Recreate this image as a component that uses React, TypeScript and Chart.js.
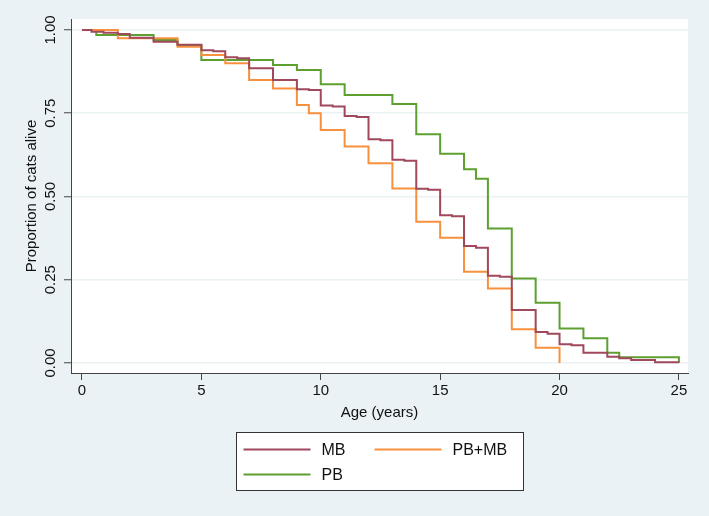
import React, { useEffect, useRef } from 'react';
import { Chart, registerables } from 'chart.js';

Chart.register(...registerables);

// Kaplan-Meier steps: age (years) -> proportion alive
const mbAge = [0, 0.4, 0.9, 1.5, 2, 3, 4, 5, 5.5, 6, 6.5, 7, 8, 9, 9.5, 10, 10.5, 11, 11.5, 12, 12.5, 13, 13.5, 14, 14.5, 15, 15.5, 16, 16.5, 17, 17.5, 18, 19, 19.5, 20, 20.5, 21, 22, 22.5, 23, 24, 25];
const mbAlive = [1, 0.995, 0.992, 0.988, 0.977, 0.965, 0.956, 0.939, 0.936, 0.918, 0.915, 0.885, 0.85, 0.822, 0.82, 0.773, 0.77, 0.742, 0.739, 0.672, 0.669, 0.61, 0.607, 0.523, 0.52, 0.444, 0.441, 0.351, 0.346, 0.262, 0.259, 0.159, 0.093, 0.088, 0.056, 0.053, 0.031, 0.019, 0.014, 0.009, 0.002, 0.002];

const pbmbAge = [0, 1.5, 4, 5, 6, 7, 8, 9, 9.5, 10, 11, 12, 13, 14, 15, 16, 17, 18, 19, 20];
const pbmbAlive = [1, 0.975, 0.95, 0.925, 0.9, 0.85, 0.824, 0.775, 0.75, 0.7, 0.65, 0.6, 0.524, 0.424, 0.376, 0.274, 0.224, 0.101, 0.046, 0];

const pbAge = [0, 0.6, 3, 4, 5, 8, 9, 10, 11, 13, 14, 15, 16, 16.5, 17, 18, 19, 20, 21, 22, 22.5, 25];
const pbAlive = [1, 0.985, 0.97, 0.955, 0.91, 0.895, 0.88, 0.837, 0.805, 0.778, 0.687, 0.628, 0.582, 0.553, 0.404, 0.254, 0.181, 0.104, 0.074, 0.031, 0.017, 0];

const seriesNames = ['MB', 'PB+MB', 'PB'];
const seriesColors = ['#A0485C', '#F7913D', '#5DA030'];

const xTicks = [0, 5, 10, 15, 20, 25];
const yTicks = [0, 0.25, 0.5, 0.75, 1];
const yTickLabels = ['0.00', '0.25', '0.50', '0.75', '1.00'];

const xTitle = 'Age (years)';
const yTitle = 'Proportion of cats alive';

const FONT = '"Liberation Sans", Arial, Helvetica, sans-serif';
const INK = '#111';
const AXIS = '#444';

const toPoints = (xs: number[], ys: number[]) => xs.map((x, i) => ({ x, y: ys[i] }));

// stata-ish frame: grey page, white plot region, rotated y labels, boxed legend
const stataFrame = {
    id: 'stataFrame',
    beforeDraw(chart: any) {
        const { ctx, chartArea: a, width, height } = chart;
        ctx.save();
        ctx.fillStyle = '#EAF2F5';
        ctx.fillRect(0, 0, width, height);
        ctx.fillStyle = '#ffffff';
        ctx.fillRect(a.left, a.top, a.right - a.left, a.bottom - a.top);
        ctx.restore();
    },
    afterDraw(chart: any) {
        const { ctx, chartArea: a, scales } = chart;
        const cx = (a.left + a.right) / 2;
        ctx.save();
        ctx.fillStyle = INK;
        ctx.font = `15px ${FONT}`;
        ctx.textAlign = 'center';
        ctx.textBaseline = 'middle';

        yTicks.forEach((v, i) => {
            ctx.save();
            ctx.translate(a.left - 20, scales.y.getPixelForValue(v));
            ctx.rotate(-Math.PI / 2);
            ctx.fillText(yTickLabels[i], 0, 0);
            ctx.restore();
        });

        ctx.save();
        ctx.translate(a.left - 39, (a.top + a.bottom) / 2);
        ctx.rotate(-Math.PI / 2);
        ctx.fillText(yTitle, 0, 0);
        ctx.restore();

        ctx.fillText(xTitle, cx, a.bottom + 40);

        // legend box
        const boxW = 287;
        const boxH = 58;
        const bx = Math.round(cx - boxW / 2) + 0.5;
        const by = a.bottom + 59.5;
        ctx.fillStyle = '#ffffff';
        ctx.fillRect(bx, by, boxW, boxH);
        ctx.strokeStyle = '#333';
        ctx.lineWidth = 1;
        ctx.strokeRect(bx, by, boxW, boxH);

        const slots = [
            { dx: 7, dy: 17 },
            { dx: 138, dy: 17 },
            { dx: 7, dy: 42 },
        ];
        ctx.textAlign = 'left';
        ctx.font = `16px ${FONT}`;
        seriesNames.forEach((name, i) => {
            const s = slots[i];
            const ly = by + s.dy;
            ctx.strokeStyle = seriesColors[i];
            ctx.lineWidth = 2;
            ctx.beginPath();
            ctx.moveTo(bx + s.dx, ly);
            ctx.lineTo(bx + s.dx + 67, ly);
            ctx.stroke();
            ctx.fillStyle = INK;
            ctx.fillText(name, bx + s.dx + 78, ly + 1);
        });
        ctx.restore();
    },
};

const App: React.FC = () => {
    const chartRef = useRef<HTMLCanvasElement>(null);
    const chartInstance = useRef<Chart | null>(null);

    useEffect(() => {
        document.body.style.margin = '0';
        if (!chartRef.current) return;
        const ctx = chartRef.current.getContext('2d');
        if (!ctx) return;
        if (chartInstance.current) chartInstance.current.destroy();

        const series = [
            toPoints(mbAge, mbAlive),
            toPoints(pbmbAge, pbmbAlive),
            toPoints(pbAge, pbAlive),
        ];

        chartInstance.current = new Chart(ctx, {
            type: 'line',
            data: {
                datasets: series.map((pts, i) => ({
                    label: seriesNames[i],
                    data: pts,
                    borderColor: seriesColors[i],
                    backgroundColor: seriesColors[i],
                    borderWidth: 2,
                    pointRadius: 0,
                    fill: false,
                    stepped: 'before' as const,
                })),
            },
            options: {
                animation: false,
                responsive: false,
                layout: { padding: { top: 19, right: 21, left: 0, bottom: 0 } },
                plugins: {
                    legend: { display: false },
                    tooltip: { enabled: false },
                },
                scales: {
                    x: {
                        type: 'linear',
                        min: -0.46,
                        max: 25.38,
                        afterBuildTicks: (s: any) => {
                            s.ticks = xTicks.map((v) => ({ value: v }));
                        },
                        afterFit: (s: any) => {
                            s.height = 143;
                        },
                        grid: {
                            drawOnChartArea: false,
                            drawTicks: true,
                            tickLength: 7,
                            tickColor: AXIS,
                            tickWidth: 1,
                        },
                        border: { display: true, color: AXIS, width: 1 },
                        ticks: {
                            color: INK,
                            font: { family: FONT, size: 15 },
                            padding: 2,
                            maxRotation: 0,
                            autoSkip: false,
                        },
                    },
                    y: {
                        type: 'linear',
                        min: -0.03,
                        max: 1.033,
                        afterBuildTicks: (s: any) => {
                            s.ticks = yTicks.map((v) => ({ value: v }));
                        },
                        afterFit: (s: any) => {
                            s.width = 71;
                        },
                        grid: {
                            color: '#EAF2F3',
                            lineWidth: 1.5,
                            drawTicks: true,
                            tickLength: 7,
                            tickColor: AXIS,
                            tickWidth: 1,
                        },
                        border: { display: true, color: AXIS, width: 1 },
                        ticks: { display: false },
                    },
                },
            },
            plugins: [stataFrame],
        });

        return () => {
            if (chartInstance.current) {
                chartInstance.current.destroy();
                chartInstance.current = null;
            }
        };
    }, []);

    return (
        <div style={{ width: 709, height: 516 }}>
            <canvas ref={chartRef} width={709} height={516}></canvas>
        </div>
    );
};

export default App;
